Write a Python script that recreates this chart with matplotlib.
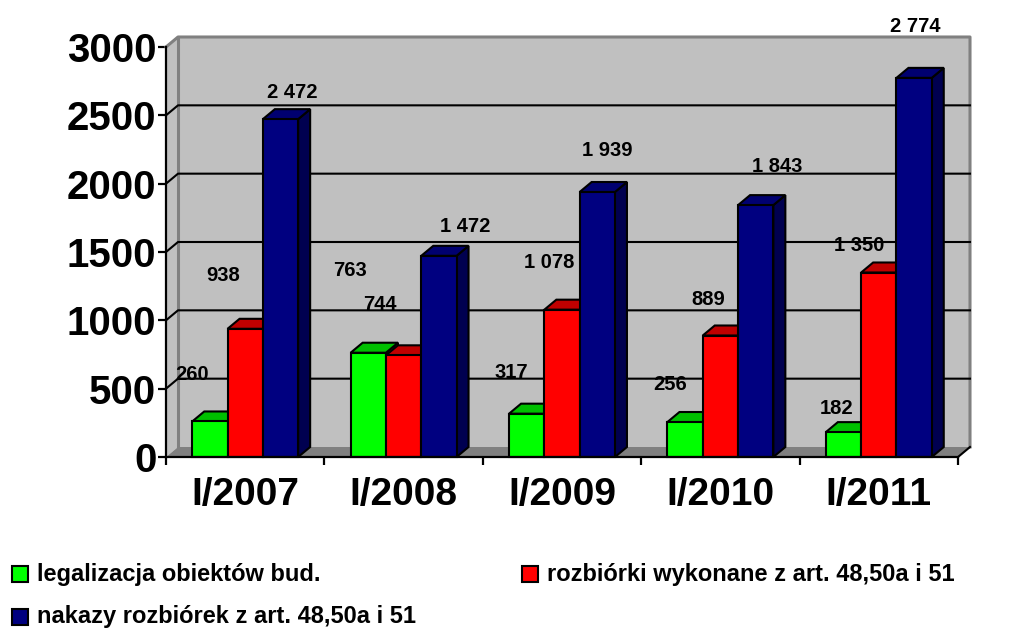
import matplotlib
matplotlib.use('Agg')
import matplotlib.pyplot as plt
from matplotlib.patches import Polygon, Rectangle
import numpy as np

plt.rcParams['font.family'] = ['Liberation Sans', 'DejaVu Sans']
plt.rcParams['font.weight'] = 'bold'

W, H = 1017, 631

# ---------------------------
# DATA
# ---------------------------
categories = ['I/2007', 'I/2008', 'I/2009', 'I/2010', 'I/2011']
legalizacja = [260, 763, 317, 256, 182]
rozbiorki = [938, 744, 1078, 889, 1350]
nakazy = [2472, 1472, 1939, 1843, 2774]
y_ticks = [0, 500, 1000, 1500, 2000, 2500, 3000]
series_names = ['legalizacja obiektów bud.',
                'rozbiórki wykonane z art. 48,50a i 51',
                'nakazy rozbiórek z art. 48,50a i 51']

# front, top, side
colors = [('#00FF00', '#00C000', '#00C000'),
          ('#FF0000', '#C00000', '#C00000'),
          ('#000080', '#000070', '#000050')]

# label centres in pixels, one row per series (the original labels sit off the bars)
label_px = [[(192, 374), (350, 270), (511, 372), (670, 384), (837, 408)],
            [(223, 275), (380, 304), (549, 262), (708, 299), (859, 245)],
            [(292, 92), (465, 226), (607, 151), (777, 167), (915, 26)]]

# ---------------------------
# AXES
# ---------------------------
fig = plt.figure(figsize=(W / 100, H / 100), dpi=100)
left, right, bottom, top = 166, 958, 457, 47
ax = fig.add_axes([left / W, 1 - bottom / H, (right - left) / W, (bottom - top) / H])
ax.set_xlim(0, len(categories))
ax.set_ylim(0, 3000)
ax.patch.set_visible(False)

# depth of the fake 3D box in data units
dx = 12 / ((right - left) / len(categories))
dy = 10 * 3000 / (bottom - top)
n = len(categories)

# walls and floor
ax.add_patch(Polygon([(0, 0), (0, 3000), (dx, 3000 + dy), (dx, dy)], fc='#C0C0C0', ec='none', clip_on=False, zorder=1))
ax.add_patch(Polygon([(dx, dy), (dx, 3000 + dy), (n + dx, 3000 + dy), (n + dx, dy)], fc='#C0C0C0', ec='none', clip_on=False, zorder=1))
ax.add_patch(Polygon([(0, 0), (n, 0), (n + dx, dy), (dx, dy)], fc='#808080', ec='none', clip_on=False, zorder=1))
ax.plot([dx, dx], [dy, 3000 + dy], color='#808080', lw=2.2, clip_on=False, zorder=2)
ax.plot([0, dx, n + dx, n + dx], [3000, 3000 + dy, 3000 + dy, dy], color='#808080', lw=2.2, clip_on=False, zorder=2)

# gridlines
for v in y_ticks[1:-1]:
    ax.plot([0, dx, n + dx], [v, v + dy, v + dy], color='black', lw=1.5, clip_on=False, zorder=3)
ax.plot([n, n + dx], [0, dy], color='black', lw=1.5, clip_on=False, zorder=3)

# ---------------------------
# BARS
# ---------------------------
bar_w = 35.3 / ((right - left) / len(categories))
z = 4
for i in range(n):
    for j, vals in enumerate([legalizacja, rozbiorki, nakazy]):
        x0 = i + 0.5 + (j - 1.5) * bar_w
        x1 = x0 + bar_w
        v = vals[i]
        front, top_c, side = colors[j]
        ax.add_patch(Polygon([(x1, 0), (x1 + dx, dy), (x1 + dx, v + dy), (x1, v)], fc=side, ec='black', lw=1.5, joinstyle='miter', clip_on=False, zorder=z))
        ax.add_patch(Polygon([(x0, v), (x0 + dx, v + dy), (x1 + dx, v + dy), (x1, v)], fc=top_c, ec='black', lw=1.5, joinstyle='miter', clip_on=False, zorder=z))
        ax.bar(x0, v, bar_w, align='edge', color=front, edgecolor='black', linewidth=1.5, clip_on=False, zorder=z + 0.5)
        z += 1

# ---------------------------
# AXIS STYLE
# ---------------------------
for s in ['top', 'right']:
    ax.spines[s].set_visible(False)
for s in ['left', 'bottom']:
    ax.spines[s].set_linewidth(1.6)
    ax.spines[s].set_zorder(60)
ax.set_yticks(y_ticks)
ax.set_yticklabels([str(v) for v in y_ticks], fontsize=29, fontweight='bold')
ax.set_xticks(np.arange(n + 1))
ax.set_xticklabels([])
ax.tick_params(axis='both', length=6, width=1.6, color='black')
ax.tick_params(axis='y', pad=1)
for i, c in enumerate(categories):
    ax.text(i + 0.5, -150, c, fontsize=28, fontweight='bold', ha='center', va='top', clip_on=False)

# ---------------------------
# DATA LABELS
# ---------------------------
def px_text(x, y, s, **kw):
    fig.text(x / W, 1 - y / H, s, zorder=100, **kw)

for vals, row in zip([legalizacja, rozbiorki, nakazy], label_px):
    for v, (x, y) in zip(vals, row):
        px_text(x, y, f'{v:,}'.replace(',', ' '), fontsize=14.5, fontweight='bold', ha='center', va='center')

# ---------------------------
# LEGEND
# ---------------------------
legend_px = [(12, 574), (522, 574), (12, 617)]
for (x, y), name, cols in zip(legend_px, series_names, colors):
    fig.add_artist(Rectangle((x / W, 1 - (y + 8) / H), 16 / W, 16 / H, transform=fig.transFigure, fc=cols[0], ec='black', lw=1.5))
    px_text(x + 25, y, name, fontsize=17, fontweight='bold', ha='left', va='center')

fig.savefig('out.png', dpi=100)
